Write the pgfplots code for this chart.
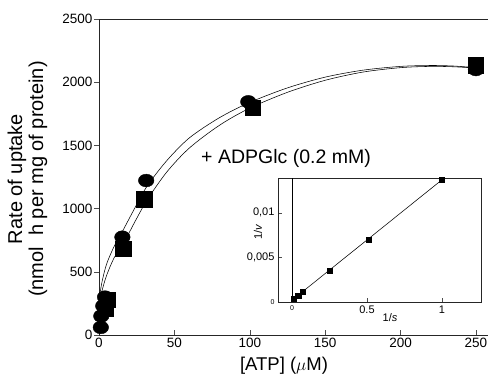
\documentclass[border=0pt]{standalone}
\usepackage{pgfplots}
\pgfplotsset{compat=1.18}
\usepackage{fontspec}
\setmainfont{Liberation Sans}
\begin{document}
\begin{tikzpicture}[x=1pt,y=1pt]
\begin{axis}[
  at={(99pt,44pt)}, anchor=south west,
  scale only axis, width=389pt, height=316pt,
  xmin=0, xmax=258, ymin=0, ymax=2500,
  axis x line*=box, axis y line*=left,
  axis line style={-, line width=0.6pt, black!85},
  xtick={0,50,...,250}, ytick={0,500,...,2500},
  xtick pos=left, ytick pos=left,
  tick align=inside, major tick length=5pt,
  ytick style={xshift=-5pt},
  tick style={black!70, line width=0.5pt},
  tick label style={font=\fontsize{13.5}{13.5}\selectfont},
  yticklabel style={xshift=-3pt},
  /pgf/number format/assume math mode=true,
  /pgf/number format/1000 sep={},
  clip=false,
]
% fitted curves
\addplot[black, line width=0.55pt, smooth] coordinates {
(0,280)(2,420)(5,560)(10,700)(16,830)(24,1010)(32,1180)(45,1380)(60,1560)(80,1720)(100,1840)(125,1955)(150,2040)(175,2095)(200,2125)(220,2132)(235,2128)(250,2115)};
\addplot[black, line width=0.55pt, smooth] coordinates {
(0,250)(2,350)(5,470)(10,610)(16,720)(24,900)(32,1070)(45,1290)(60,1480)(80,1660)(100,1795)(125,1920)(150,2015)(175,2080)(200,2115)(220,2125)(235,2122)(250,2112)};
% circles (control)
\addplot[only marks, mark=*, mark size=7.8pt, mark options={yscale=0.82, fill=black, draw=black}] coordinates {
(1.2,60)(1.5,150)(2.8,230)(4,300)(15.5,774)(31.3,1222)(99,1845)(250,2100)};
% squares (+ ADPGlc)
\addplot[only marks, mark=square*, mark size=7.6pt, mark options={fill=black, draw=black}] coordinates {
(4.5,210)(5.5,280)(16,683)(30,1075)(102,1800)(250,2135)};
\end{axis}

\begin{axis}[
  at={(278pt,77pt)}, anchor=south west,
  scale only axis, width=203pt, height=124pt,
  xmin=-0.093, xmax=1.26, ymin=0, ymax=0.0139,
  axis line style={line width=0.5pt, black!85},
  tick align=inside, major tick length=3.5pt,
  tick style={black!70, line width=0.5pt},
  xtick={0,0.5,1}, xticklabels={{\fontsize{7}{7}\selectfont 0},0.5,1},
  ytick={0,0.005,0.01}, yticklabels={{\fontsize{7}{7}\selectfont 0},{0,005},{0,01}},
  xtick pos=left, ytick pos=left,
  scaled y ticks=false, scaled x ticks=false,
  tick label style={font=\fontsize{11}{11}\selectfont},
  clip=false,
]
\addplot[black, line width=0.4pt] coordinates {(0,0)(0,0.0139)};
\addplot[black, line width=0.55pt] coordinates {(0,0.0002)(1,0.0137)};
\addplot[only marks, mark=square*, mark size=2.6pt, mark options={fill=black, draw=black}] coordinates {
(0.009,0.00034)(0.042,0.0007)(0.069,0.00116)(0.253,0.0035)(0.509,0.00697)(1.0,0.01375)};
\end{axis}

\node[rotate=90, align=center, font=\fontsize{20}{21}\selectfont] at (27.5,200) {Rate of uptake\\(nmol\ \ h per mg of protein)};
\node[font=\fontsize{18.5}{18.5}\selectfont] at (284,13) {[ATP] ($\mu$M)};
\node[anchor=base, font=\fontsize{19.5}{20}\selectfont] at (286,215) {+ ADPGlc (0.2 mM)};
\node[rotate=90, font=\fontsize{11}{11}\selectfont] at (258,147) {1/\textit{v}};
\node[font=\fontsize{11}{11}\selectfont] at (390,61) {1/\textit{s}};

\pgfresetboundingbox
\path (0,0) rectangle (488,379);
\end{tikzpicture}
\end{document}
